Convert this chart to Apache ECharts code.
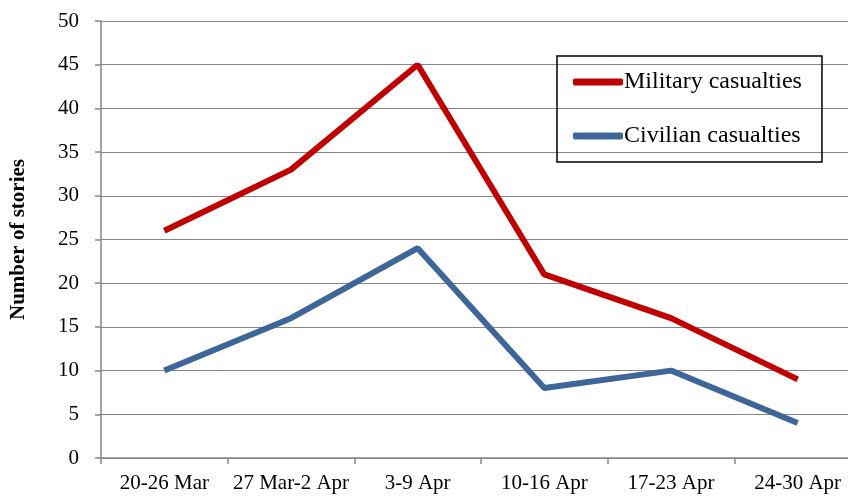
<!DOCTYPE html>
<html>
<head>
<meta charset="utf-8">
<script src="https://cdn.jsdelivr.net/npm/echarts@6/dist/echarts.min.js"></script>
<style>
  html, body { margin: 0; padding: 0; background: #fff; overflow: hidden; }
  /* 画布比窗口宽一点,右侧被裁掉,和原图一样 */
  #chart { width: 861px; height: 496px; }
</style>
</head>
<body>
<div id="chart"></div>
<script>
// 数据
const weeks = ['20-26 Mar', '27 Mar-2 Apr', '3-9 Apr', '10-16 Apr', '17-23 Apr', '24-30 Apr']
const military = [26, 33, 45, 21, 16, 9]
const civilian = [10, 16, 24, 8, 10, 4]

const serif = 'Liberation Serif'
const grey = '#868686'

const chart = echarts.init(document.getElementById('chart'))
chart.setOption({
  animation: false,
  grid: { left: 101, right: 0, top: 21, bottom: 38, containLabel: false, outerBoundsMode: 'none' },
  legend: {
    orient: 'vertical',
    left: 557,
    top: 56,
    padding: [14, 20, 14, 16],
    itemGap: 30,
    itemWidth: 50,
    itemHeight: 7,
    borderColor: '#000',
    borderWidth: 1.5,
    icon: 'roundRect',
    textStyle: { fontFamily: serif, fontSize: 24, lineHeight: 24, color: '#000', padding: [0, 0, 0, -4] },
    data: ['Military casualties', 'Civilian casualties']
  },
  xAxis: {
    type: 'category',
    data: weeks,
    boundaryGap: true,
    axisLine: { lineStyle: { color: grey, width: 1.5 } },
    axisTick: { show: true, length: 6, lineStyle: { color: grey, width: 1.5 } },
    axisLabel: { fontFamily: serif, fontSize: 21, color: '#000', margin: 15, interval: 0 }
  },
  yAxis: {
    type: 'value',
    min: 0,
    max: 50,
    interval: 5,
    name: 'Number of stories',
    nameLocation: 'middle',
    nameGap: 72,
    nameTextStyle: { fontFamily: serif, fontSize: 21, fontWeight: 'bold', color: '#000' },
    axisLine: { show: true, lineStyle: { color: grey, width: 1.5 } },
    axisTick: { show: true, length: 6, lineStyle: { color: grey, width: 1.5 } },
    axisLabel: { fontFamily: serif, fontSize: 21, color: '#000', margin: 22 },
    splitLine: { lineStyle: { color: grey, width: 1 } }
  },
  series: [
    {
      name: 'Military casualties',
      type: 'line',
      data: military,
      symbol: 'none',
      color: '#C00000',
      lineStyle: { width: 6, color: '#C00000' }
    },
    {
      name: 'Civilian casualties',
      type: 'line',
      data: civilian,
      symbol: 'none',
      color: '#3E6698',
      lineStyle: { width: 6, color: '#3E6698' }
    }
  ]
})
</script>
</body>
</html>
